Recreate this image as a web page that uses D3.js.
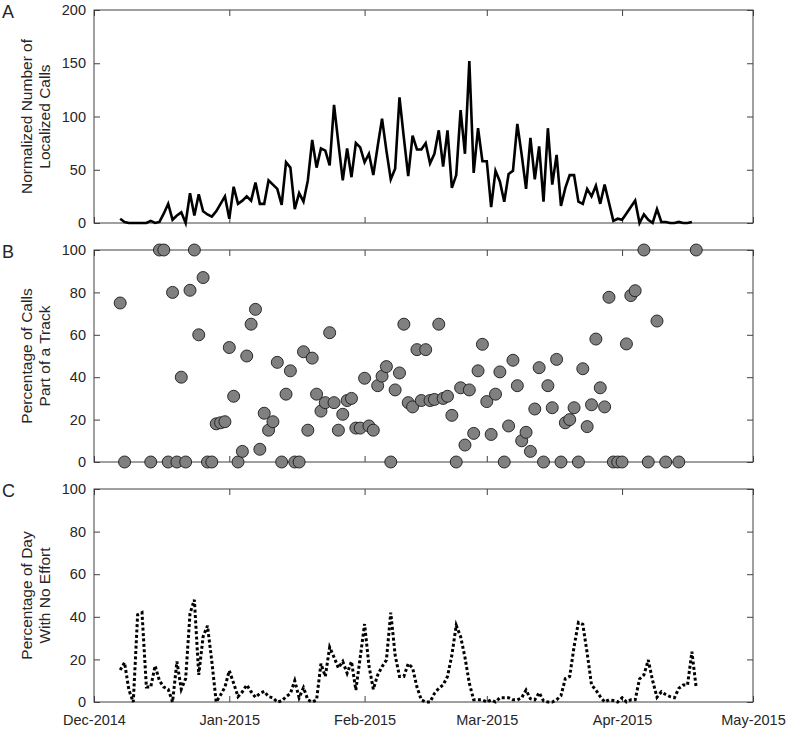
<!DOCTYPE html>
<html>
<head>
<meta charset="utf-8">
<script src="https://cdn.jsdelivr.net/npm/d3@7/dist/d3.min.js"></script>
<style>
  body { margin: 0; background: #fff; }
  svg text { font-family: "Liberation Sans", Arial, Helvetica, sans-serif; fill: #262626; }
</style>
</head>
<body>
<div id="chart"></div>
<script>
var width = 788;
var height = 730;

// x axis: season Dec 2014 - May 2015, month ticks
var seasonStart = "2014-12-01";
var seasonEnd = "2015-05-01";
var monthTicks = ["2014-12-01", "2015-01-01", "2015-02-01", "2015-03-01", "2015-04-01", "2015-05-01"];
var monthLabels = ["Dec-2014", "Jan-2015", "Feb-2015", "Mar-2015", "Apr-2015", "May-2015"];

// A: normalized number of localized calls, one value per day from 7 Dec 2014
var callsStart = "2014-12-07";
var callsPerDay = [
  4, 1, 0, 0, 0, 0, 0, 2, 0, 1, 9, 18, 3, 7, 10, 0, 28, 7, 27, 11,
  8, 6, 11, 18, 25, 4, 34, 18, 21, 25, 21, 38, 18, 18, 40, 36, 32, 17, 57, 52,
  13, 28, 20, 40, 78, 52, 70, 68, 54, 111, 75, 40, 70, 43, 75, 71, 57, 65, 45, 72,
  98, 68, 41, 51, 118, 80, 44, 82, 69, 69, 75, 56, 65, 87, 53, 87, 33, 45, 106, 65,
  152, 47, 89, 58, 58, 15, 49, 39, 20, 46, 49, 93, 64, 32, 80, 41, 72, 20, 89, 36,
  64, 16, 33, 45, 45, 20, 18, 32, 25, 35, 18, 36, 19, 2, 4, 3, 9, 15, 21, 0,
  8, 3, 0, 13, 1, 1, 0, 0, 1, 0, 0, 1
];

// B: percentage of calls part of a track (day = days after 1 Dec 2014)
var trackDay = [
  6, 7, 13, 15, 16, 17, 18, 19, 20, 21, 22, 23, 24, 25, 26, 27, 28, 29, 30, 31,
  32, 33, 34, 35, 36, 37, 38, 39, 40, 41, 42, 43, 44, 45, 46, 47, 48, 49, 50, 51,
  52, 53, 54, 55, 56, 57, 58, 59, 60, 61, 62, 63, 64, 65, 66, 67, 68, 69, 70, 71,
  72, 73, 74, 75, 76, 77, 78, 79, 80, 81, 82, 83, 84, 85, 86, 87, 88, 89, 90, 91,
  92, 93, 94, 95, 96, 97, 98, 99, 100, 101, 102, 103, 104, 105, 106, 107, 108, 109, 110, 111,
  112, 113, 114, 115, 116, 117, 118, 119, 120, 121, 122, 123, 124, 126, 127, 129, 131, 134, 138
];
var trackPct = [
  75, 0, 0, 100, 100, 0, 80, 0, 40, 0, 81, 100, 60, 87, 0, 0, 18, 18.5, 19, 54,
  31, 0, 5, 50, 65, 72, 6, 23, 15, 19, 47, 0, 32, 43, 0, 0, 52, 15, 49, 32,
  24, 28, 61, 28, 15, 22.5, 29, 30, 16, 16, 39.5, 17, 15, 36, 40.5, 45, 0, 34, 42, 65,
  28, 26, 53, 29, 53, 29, 29.5, 65, 30, 31, 22, 0, 35, 8, 34, 13.5, 43, 55.5, 28.5, 13,
  32, 42.5, 0, 17, 48, 36, 10, 14, 5, 25, 44.5, 0, 36, 25.6, 48.4, 0, 18.5, 20, 25.6, 0,
  44, 16.7, 27, 58, 35, 26, 77.7, 0, 0, 0, 55.7, 78.5, 80.8, 100, 0, 66.5, 0, 0, 100
];

// C: percentage of day with no effort, one value per day from 7 Dec 2014
var effortStart = "2014-12-07";
var noEffortPct = [
  15, 18.5, 5.6, 0, 41, 42, 7, 7, 17, 10, 7, 6, 0, 19, 6, 11, 41.6, 48, 12.7, 30.7,
  35.8, 19, 0, 3.3, 7, 14.7, 8.8, 2.5, 4.8, 8, 4.8, 2.2, 4, 5, 2.5, 2, 0, 0.5, 2.5, 4,
  10, 2, 6.7, 1, 0, 1, 18, 12, 25.7, 21, 16, 19, 13.5, 19, 5.6, 21, 36.6, 17, 6, 12.7,
  16.6, 19.7, 42, 22, 12, 12, 18, 16, 7, 1, 0, 0, 4, 6.4, 8, 12, 22, 36, 30.7, 21,
  8.8, 1, 1, 1, 0, 1, 0, 2, 2, 2, 1, 1, 2, 5.6, 1.5, 1, 4.4, 0.5, 0, 0,
  1, 3, 11, 12, 26, 37.4, 36.5, 23, 8, 5.6, 2.5, 0, 1, 0.7, 0, 2, 0, 1, 1, 10.8,
  12.7, 19.7, 10, 2.2, 4.8, 3.5, 2.5, 2, 6.4, 8, 8, 23.6, 6.4
];

var parse = d3.utcParse("%Y-%m-%d");

var svg = d3.select("#chart").append("svg")
  .attr("width", width)
  .attr("height", height);

var plotLeft = 94;
var plotRight = 753;

var x = d3.scaleUtc()
  .domain([parse(seasonStart), parse(seasonEnd)])
  .range([plotLeft, plotRight]);

var tickDates = monthTicks.map(parse);

// panels: top / bottom pixel of each plot box
var panels = [
  { key: "A", top: 10, bottom: 223, max: 200, step: 50, label: ["Normalized Number of", "Localized Calls"] },
  { key: "B", top: 250, bottom: 462, max: 100, step: 20, label: ["Percentage of Calls", "Part of a Track"] },
  { key: "C", top: 489, bottom: 702, max: 100, step: 20, label: ["Percentage of Day", "With No Effort"] }
];

var axisColor = "#404040";

panels.forEach(function (p, i) {
  p.y = d3.scaleLinear().domain([0, p.max]).range([p.bottom, p.top]);
  var yTicks = d3.range(0, p.max + 1, p.step);
  var g = svg.append("g").classed("panel", true);
  p.g = g;

  // box
  g.append("rect")
    .attr("x", plotLeft).attr("y", p.top)
    .attr("width", plotRight - plotLeft).attr("height", p.bottom - p.top)
    .attr("fill", "none").attr("stroke", axisColor).attr("stroke-width", 1);

  // left axis with labels, inward ticks
  var left = g.append("g")
    .attr("transform", "translate(" + plotLeft + ",0)")
    .call(d3.axisLeft(p.y).tickValues(yTicks).tickSize(-6).tickSizeOuter(0).tickPadding(8));
  // right axis ticks only
  var right = g.append("g")
    .attr("transform", "translate(" + plotRight + ",0)")
    .call(d3.axisRight(p.y).tickValues(yTicks).tickSize(-6).tickSizeOuter(0).tickFormat(""));
  // top ticks
  var top = g.append("g")
    .attr("transform", "translate(0," + p.top + ")")
    .call(d3.axisTop(x).tickValues(tickDates).tickSize(-6).tickSizeOuter(0).tickFormat(""));
  // bottom ticks (labels only on panel C)
  var bottom = g.append("g")
    .attr("transform", "translate(0," + p.bottom + ")")
    .call(d3.axisBottom(x).tickValues(tickDates).tickSize(-6).tickSizeOuter(0).tickPadding(12.5)
      .tickFormat(function (d, j) { return i === 2 ? monthLabels[j] : ""; }));

  [left, right, top, bottom].forEach(function (ax) {
    ax.select(".domain").remove();
    ax.selectAll(".tick line").attr("stroke", axisColor);
    ax.selectAll("text").attr("font-size", "14.5px").attr("fill", "#262626");
  });

  // panel letter
  g.append("text")
    .attr("x", 2).attr("y", p.top + 8)
    .attr("font-size", "18px")
    .text(p.key);

  // y axis title, two lines
  var cy = (p.top + p.bottom) / 2;
  g.selectAll(".ylab").data(p.label).enter().append("text")
    .classed("ylab", true)
    .attr("transform", function (d, k) { return "translate(" + (27 + k * 18) + "," + cy + ") rotate(-90)"; })
    .attr("text-anchor", "middle")
    .attr("dy", "0.35em")
    .attr("font-size", "15.5px")
    .text(function (d) { return d; });
});

// A: line
var callsData = callsPerDay.map(function (v, i) {
  return { date: d3.utcDay.offset(parse(callsStart), i), value: v };
});
panels[0].g.append("path")
  .datum(callsData)
  .attr("fill", "none")
  .attr("stroke", "#000")
  .attr("stroke-width", 2.6)
  .attr("stroke-linejoin", "miter")
  .attr("d", d3.line()
    .x(function (d) { return x(d.date); })
    .y(function (d) { return panels[0].y(d.value); }));

// B: scatter
var trackData = trackDay.map(function (d, i) {
  return { date: d3.utcDay.offset(parse(seasonStart), d), value: trackPct[i] };
});
panels[1].g.append("g").selectAll("circle")
  .data(trackData)
  .enter().append("circle")
  .attr("cx", function (d) { return x(d.date); })
  .attr("cy", function (d) { return panels[1].y(d.value); })
  .attr("r", 6)
  .attr("fill", "#808080")
  .attr("stroke", "#1a1a1a")
  .attr("stroke-width", 0.9);

// C: dotted line
var effortData = noEffortPct.map(function (v, i) {
  return { date: d3.utcDay.offset(parse(effortStart), i), value: v };
});
panels[2].g.append("path")
  .datum(effortData)
  .attr("fill", "none")
  .attr("stroke", "#000")
  .attr("stroke-width", 3)
  .attr("stroke-dasharray", "3,2.4")
  .attr("d", d3.line()
    .x(function (d) { return x(d.date); })
    .y(function (d) { return panels[2].y(d.value); }));
</script>
</body>
</html>
